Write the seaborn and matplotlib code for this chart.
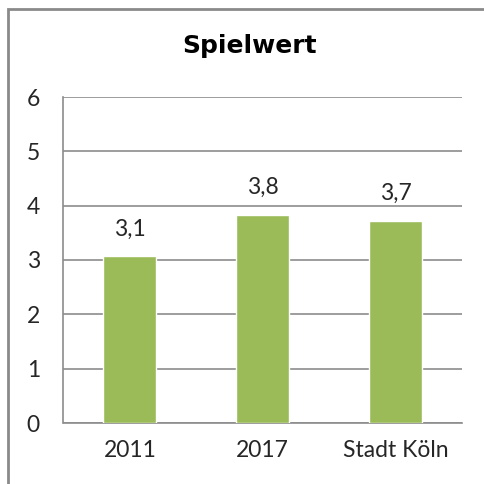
import pandas as pd
import matplotlib.pyplot as plt
import seaborn as sns
from matplotlib.patches import Rectangle

categories = ["2011", "2017", "Stadt Köln"]
values = [3.07, 3.83, 3.72]
labels = ["3,1", "3,8", "3,7"]
y_ticks = [0, 1, 2, 3, 4, 5, 6]

bar_color = "#9BBB59"
grid_color = "#8C8C8C"
text_color = "#262626"

df = pd.DataFrame({"category": categories, "value": values})

sns.set_style("white")
plt.rcParams["font.family"] = ["Lato", "DejaVu Sans"]

fig = plt.figure(figsize=(4.85, 4.84), dpi=100)
ax = fig.add_axes([63.5 / 485, 1 - 423 / 484, (462 - 63.5) / 485, (423 - 97) / 484])

sns.barplot(data=df, x="category", y="value", color=bar_color, width=0.4,
            saturation=1, ax=ax, zorder=3)

ax.set_xlim(-0.5, 2.5)
ax.set_ylim(0, 6)
ax.set_yticks(y_ticks)
ax.set_yticklabels([str(t) for t in y_ticks])
ax.yaxis.grid(True, color=grid_color, linewidth=1.2, zorder=0)
ax.set_axisbelow(True)

ax.set_xticks([0, 1, 2])
ax.set_xticklabels(categories)
ax.set_xticks([-0.5, 0.5, 1.5, 2.5], minor=True)
ax.tick_params(axis="x", which="major", length=0, pad=12,
               labelsize=16.5, labelcolor=text_color)
ax.tick_params(axis="x", which="minor", length=6, width=1.2,
               color=grid_color, direction="out")
ax.tick_params(axis="y", length=7, width=1.2, color=grid_color,
               direction="out", pad=10, labelsize=16.5, labelcolor=text_color)

for side in ["top", "right"]:
    ax.spines[side].set_visible(False)
for side in ["left", "bottom"]:
    ax.spines[side].set_color(grid_color)
    ax.spines[side].set_linewidth(1.2)

ax.set_xlabel("")
ax.set_ylabel("")

for i, (v, lab) in enumerate(zip(values, labels)):
    ax.annotate(lab, (i, v), xytext=(0, 12), textcoords="offset points",
                ha="center", va="bottom", fontsize=16.5, color=text_color)

fig.text(250 / 485, 1 - 46 / 484, "Spielwert", ha="center", va="center",
         fontsize=18, fontweight="bold", family="DejaVu Sans", color="black")

# chart frame
fig.patches.append(Rectangle((8 / 485, -0.1), 1.2, 1 - 9 / 484 + 0.1,
                             transform=fig.transFigure, fill=False,
                             edgecolor="#8A8A8A", linewidth=2))

fig.savefig("out.png", dpi=100)
